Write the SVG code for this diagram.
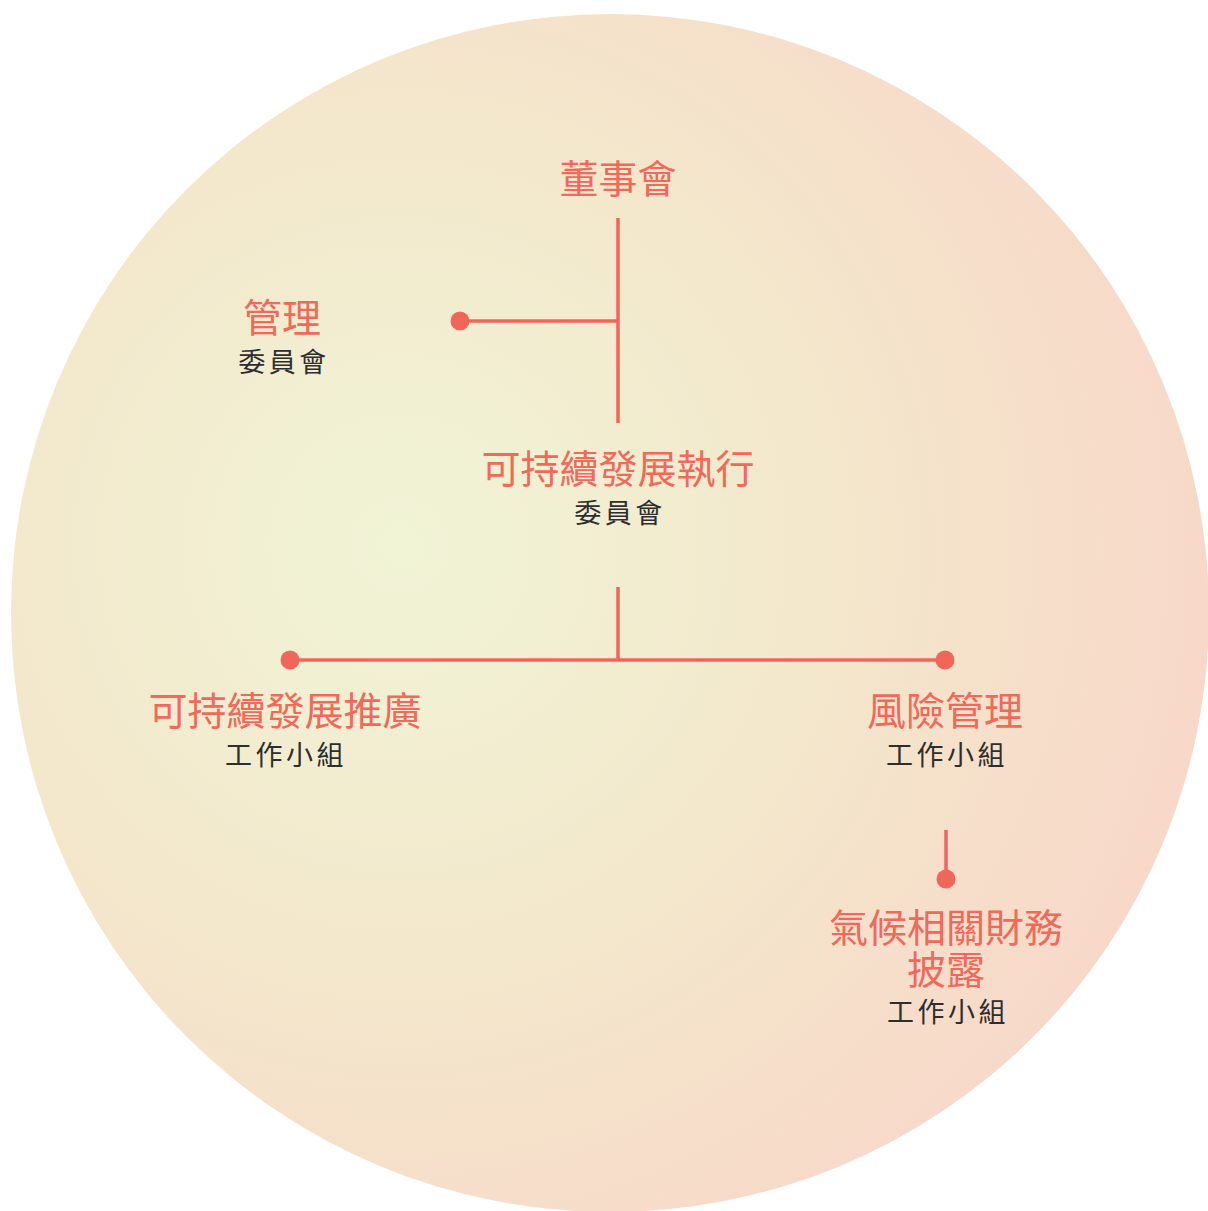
<svg xmlns="http://www.w3.org/2000/svg" width="1208" height="1211" viewBox="0 0 1208 1211">
<defs>
<radialGradient id="bg" gradientUnits="userSpaceOnUse" cx="400" cy="545" r="900">
<stop offset="0" stop-color="#F1F4D6"/>
<stop offset="0.45" stop-color="#F3E8CC"/>
<stop offset="1" stop-color="#F9D5C8"/>
</radialGradient>
<style>
.t{font-family:"Noto Sans CJK TC","Noto Sans CJK SC",sans-serif;fill:#F0695A;font-size:39px;text-anchor:middle}
.s{font-family:"Noto Sans CJK TC","Noto Sans CJK SC",sans-serif;fill:#2E2E2E;font-size:27px;text-anchor:middle;letter-spacing:3.5px}
.ln{stroke:#F0675A;stroke-width:3.5;fill:none}
.dot{fill:#F0675A}
</style>
</defs>
<circle cx="610" cy="613" r="599" fill="url(#bg)"/>
<g id="connectors">
<line class="ln" x1="618" y1="218" x2="618" y2="423"/>
<line class="ln" x1="460" y1="321" x2="618" y2="321"/>
<circle class="dot" cx="460" cy="321" r="9.5"/>
<line class="ln" x1="618" y1="587" x2="618" y2="660"/>
<line class="ln" x1="290" y1="660" x2="945" y2="660"/>
<circle class="dot" cx="290" cy="660" r="9.5"/>
<circle class="dot" cx="945" cy="660" r="9.5"/>
<line class="ln" x1="946" y1="830" x2="946" y2="879"/>
<circle class="dot" cx="946" cy="879" r="9.5"/>
</g>
<g id="board"><text class="t" x="618" y="193">董事會</text></g>
<g id="mgmt"><text class="t" x="282" y="332">管理</text><text class="s" x="284" y="372">委員會</text></g>
<g id="exec"><text class="t" x="618" y="483">可持續發展執行</text><text class="s" x="620" y="523">委員會</text></g>
<g id="promo"><text class="t" x="285" y="725">可持續發展推廣</text><text class="s" x="286" y="765">工作小組</text></g>
<g id="risk"><text class="t" x="945" y="725">風險管理</text><text class="s" x="947" y="765">工作小組</text></g>
<g id="tcfd"><text class="t" x="946" y="942">氣候相關財務</text><text class="t" x="946" y="984">披露</text><text class="s" x="948" y="1022">工作小組</text></g>
</svg>
